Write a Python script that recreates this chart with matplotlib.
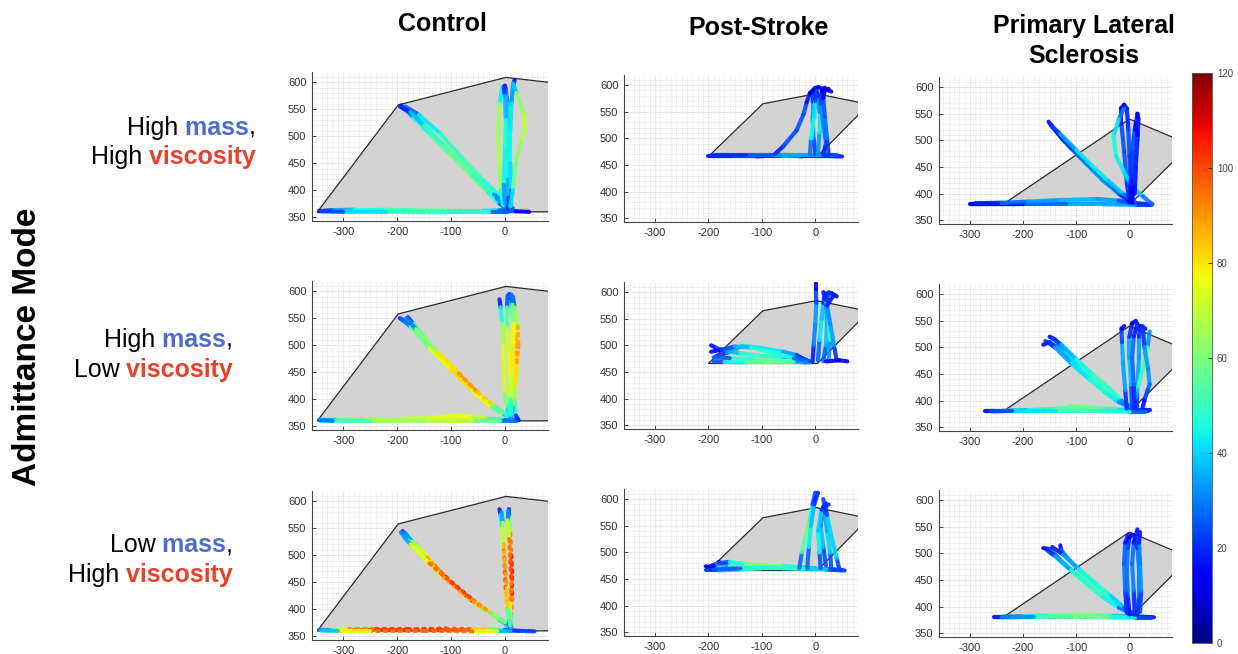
import numpy as np
import matplotlib.pyplot as plt
from matplotlib.collections import LineCollection
from matplotlib.patches import Polygon
from matplotlib.cm import ScalarMappable
from matplotlib.colors import Normalize

plt.rcParams['font.family'] = ['Liberation Sans', 'DejaVu Sans']
plt.rcParams['axes.unicode_minus'] = False

W, H = 1238, 654

col_titles = ["Control", "Post-Stroke", "Primary Lateral\nSclerosis"]
row_first_1 = ["High", "High", "Low"]      # "... mass,"
row_first_2 = ["High", "Low", "High"]      # "... viscosity"
side_label = "Admittance Mode"
mass_color = "#4E6DC8"
visc_color = "#E8412B"

xticks = [-300, -200, -100, 0]
yticks = [350, 400, 450, 500, 550, 600]
cbar_ticks = [0, 20, 40, 60, 80, 100, 120]

# workspace outlines (mm)
ctrl_ws_x = [-348, -198, 2, 150, 150]
ctrl_ws_y = [360, 558, 609, 592, 360]
ps_ws_x = [-200, -98, 2, 100, 4]
ps_ws_y = [466, 565, 584, 564, 466]
pls_ws_x = [-233, 0, 100, 100, 4]
pls_ws_y = [383, 540, 498, 478, 383]

# trajectories: (x, y, speed)
ctrl_hh = [
    [(-345, 362, 8), (-330, 362, 20), (-300, 362, 38), (-250, 361, 48), (-200, 361, 55), (-150, 361, 58),
     (-100, 361, 58), (-50, 361, 55), (-20, 362, 45), (0, 362, 30), (20, 361, 18), (45, 360, 8)],
    [(-345, 361, 10), (-320, 363, 30), (-280, 364, 42), (-230, 364, 50), (-170, 363, 54), (-100, 362, 56),
     (-40, 362, 50), (-10, 363, 35), (10, 362, 20)],
    [(5, 359, 12), (-30, 359, 42), (-120, 359, 52), (-220, 360, 48), (-300, 360, 35), (-340, 361, 12)],
    [(-193, 557, 8), (-185, 550, 25), (-170, 535, 40), (-140, 505, 50), (-100, 465, 58), (-60, 425, 60),
     (-30, 395, 52), (-10, 375, 40), (0, 368, 15)],
    [(-190, 552, 12), (-170, 540, 35), (-130, 500, 52), (-80, 450, 62), (-40, 410, 58), (-15, 385, 45), (5, 368, 20)],
    [(-185, 555, 15), (-160, 540, 38), (-120, 505, 48), (-80, 460, 52), (-40, 418, 50), (0, 380, 40), (15, 366, 12)],
    [(-195, 555, 10), (-175, 545, 30), (-150, 520, 45), (-110, 480, 55), (-60, 430, 56), (-20, 392, 44), (10, 370, 20)],
    [(0, 594, 8), (2, 585, 25), (5, 560, 38), (6, 520, 42), (7, 470, 45), (6, 420, 42), (5, 385, 30), (5, 366, 10)],
    [(18, 604, 8), (15, 595, 25), (12, 560, 40), (10, 510, 45), (10, 450, 44), (12, 400, 38), (10, 368, 12)],
    [(15, 598, 20), (22, 580, 58), (35, 540, 68), (38, 515, 70), (30, 490, 66), (20, 450, 60), (15, 400, 55), (10, 370, 30)],
    [(-5, 590, 25), (-10, 560, 62), (-12, 500, 68), (-10, 440, 66), (-8, 400, 60), (-3, 372, 35)],
    [(-2, 592, 10), (0, 575, 30), (2, 530, 44), (0, 470, 46), (-2, 410, 42), (0, 375, 25)],
]
ctrl_hl = [
    [(-345, 361, 20), (-330, 361, 40), (-300, 361, 58), (-250, 361, 66), (-200, 362, 68), (-150, 362, 70),
     (-100, 364, 72), (-70, 366, 74), (-40, 363, 68), (-10, 362, 50), (10, 362, 25), (25, 361, 10)],
    [(-343, 362, 25), (-310, 362, 52), (-260, 363, 64), (-200, 363, 68), (-130, 366, 72), (-90, 370, 78),
     (-60, 368, 75), (-30, 364, 62), (0, 362, 40), (20, 362, 15)],
    [(20, 360, 12), (-10, 360, 45), (-60, 360, 70), (-150, 360, 68), (-250, 360, 62), (-320, 360, 42), (-345, 361, 15)],
    [(-195, 550, 8), (-185, 545, 30), (-165, 525, 55), (-130, 490, 72), (-95, 455, 85), (-60, 420, 96),
     (-30, 395, 80), (-5, 375, 55), (10, 368, 20)],
    [(-180, 552, 10), (-170, 540, 35), (-150, 515, 62), (-120, 480, 78), (-80, 440, 92), (-45, 405, 88),
     (-15, 380, 65), (5, 368, 30)],
    [(-192, 548, 12), (-175, 535, 45), (-140, 495, 70), (-100, 455, 80), (-60, 415, 82), (-25, 385, 70),
     (0, 372, 45), (10, 368, 15)],
    [(-183, 550, 10), (-165, 530, 50), (-125, 488, 72), (-85, 448, 88), (-50, 412, 92), (-20, 388, 74), (5, 370, 35)],
    [(-10, 585, 8), (-8, 570, 30), (-5, 540, 60), (-3, 500, 72), (-2, 450, 75), (0, 410, 70), (5, 380, 50), (10, 367, 15)],
    [(8, 595, 8), (10, 580, 35), (15, 550, 70), (20, 515, 88), (22, 480, 85), (20, 440, 78), (18, 400, 65),
     (20, 370, 30), (25, 362, 10)],
    [(15, 590, 10), (18, 570, 45), (24, 535, 82), (25, 500, 92), (22, 460, 86), (18, 420, 75), (15, 385, 55), (12, 368, 20)],
    [(5, 592, 10), (4, 570, 40), (5, 530, 68), (8, 480, 76), (10, 430, 74), (8, 390, 62), (5, 370, 30)],
    [(12, 594, 12), (14, 575, 45), (16, 540, 74), (15, 500, 80), (12, 450, 78), (10, 400, 66), (12, 372, 28)],
]
ctrl_lh = [
    [(-345, 361, 10), (-330, 361, 35), (-310, 362, 65), (-280, 362, 95), (-230, 362, 105), (-180, 362, 108),
     (-120, 362, 105), (-70, 362, 100), (-30, 361, 80), (-5, 361, 50), (5, 361, 25), (25, 360, 15), (55, 359, 30)],
    [(-343, 362, 15), (-320, 362, 55), (-290, 363, 85), (-240, 363, 100), (-180, 363, 104), (-110, 364, 100),
     (-60, 363, 95), (-25, 362, 70), (0, 362, 35), (15, 361, 12)],
    [(10, 359, 15), (-15, 359, 60), (-60, 359, 92), (-150, 360, 100), (-250, 360, 90), (-310, 360, 60), (-340, 361, 15)],
    [(-190, 545, 8), (-180, 535, 40), (-160, 515, 70), (-130, 480, 90), (-95, 445, 102), (-60, 415, 105),
     (-30, 395, 92), (-5, 378, 55), (5, 370, 20)],
    [(-185, 540, 10), (-172, 525, 55), (-145, 495, 82), (-110, 460, 100), (-70, 425, 108), (-35, 398, 96),
     (-10, 380, 62), (5, 372, 25)],
    [(-193, 542, 12), (-180, 528, 50), (-150, 495, 75), (-115, 460, 85), (-80, 430, 88), (-40, 400, 78),
     (-10, 382, 50), (5, 372, 22)],
    [(-188, 535, 10), (-175, 520, 60), (-140, 485, 90), (-100, 450, 104), (-60, 418, 100), (-25, 392, 80), (0, 376, 40)],
    [(-10, 585, 8), (-8, 575, 25), (-5, 550, 62), (-2, 510, 88), (0, 470, 100), (2, 430, 96), (5, 395, 75),
     (8, 375, 40), (10, 365, 10)],
    [(8, 585, 8), (8, 570, 40), (10, 540, 80), (12, 500, 104), (14, 460, 108), (14, 420, 102), (12, 390, 80), (10, 370, 30)],
    [(5, 582, 12), (5, 565, 50), (8, 530, 90), (10, 490, 100), (12, 450, 98), (10, 410, 88), (8, 380, 55), (12, 366, 15)],
    [(-6, 580, 15), (-4, 560, 55), (-2, 520, 82), (0, 480, 90), (4, 440, 88), (6, 400, 78), (10, 370, 30)],
]
ps_hh = [
    [(-200, 467, 12), (-180, 467, 22), (-140, 467, 24), (-100, 467, 22), (-80, 467, 10), (-60, 467, 30),
     (-40, 467, 42), (-20, 467, 35), (0, 467, 15), (20, 467, 22), (50, 466, 12)],
    [(-195, 466, 15), (-150, 466, 25), (-110, 466, 25), (-75, 468, 12), (-50, 468, 45), (-25, 466, 12),
     (10, 466, 28), (45, 466, 15)],
    [(40, 468, 18), (10, 468, 30), (-30, 468, 40), (-80, 468, 30), (-130, 468, 22), (-190, 468, 18)],
    [(0, 470, 15), (-3, 500, 30), (-5, 540, 35), (-5, 570, 30), (-3, 590, 12), (5, 596, 8), (20, 592, 10), (30, 588, 8)],
    [(5, 470, 20), (8, 510, 45), (8, 550, 40), (5, 580, 25), (0, 592, 8)],
    [(-75, 471, 15), (-60, 485, 22), (-35, 515, 25), (-22, 545, 25), (-16, 568, 22), (-10, 585, 12), (0, 595, 8)],
    [(15, 470, 12), (20, 490, 25), (15, 530, 32), (10, 565, 30), (12, 588, 12), (25, 593, 8)],
    [(-10, 470, 18), (-8, 500, 40), (-2, 540, 50), (0, 570, 35), (3, 590, 10)],
    [(25, 470, 14), (22, 500, 28), (18, 540, 30), (15, 575, 20), (18, 595, 10)],
]
ps_hl = [
    [(-195, 500, 10), (-185, 495, 20), (-170, 490, 30), (-140, 485, 45), (-100, 480, 50), (-60, 478, 45),
     (-30, 478, 30), (-15, 472, 10)],
    [(-190, 470, 15), (-170, 469, 35), (-130, 468, 55), (-90, 468, 62), (-50, 468, 60), (-20, 468, 45), (-10, 470, 12)],
    [(-185, 480, 12), (-165, 486, 30), (-136, 499, 40), (-100, 495, 45), (-60, 488, 40), (-35, 482, 30), (-15, 470, 15)],
    [(-10, 468, 15), (-40, 470, 50), (-80, 472, 58), (-120, 474, 55), (-160, 476, 40), (-190, 478, 12)],
    [(-195, 488, 10), (-175, 492, 18), (-150, 498, 30), (-120, 496, 45), (-80, 486, 50), (-40, 476, 40), (-12, 470, 15)],
    [(-5, 470, 12), (-3, 500, 25), (0, 540, 35), (2, 580, 30), (1, 605, 15), (1, 617, 8)],
    [(5, 472, 15), (8, 510, 40), (12, 550, 45), (15, 580, 30), (18, 597, 10), (30, 598, 8), (40, 592, 10)],
    [(15, 470, 18), (20, 500, 35), (22, 540, 40), (20, 575, 30), (25, 600, 12)],
    [(25, 472, 20), (28, 510, 45), (25, 550, 50), (20, 585, 28), (15, 600, 10)],
    [(40, 472, 12), (35, 500, 30), (28, 540, 38), (22, 575, 25), (35, 595, 10)],
    [(20, 470, 10), (45, 472, 12), (60, 470, 10)],
]
ps_lh = [
    [(-205, 474, 8), (-195, 470, 12), (-185, 478, 10), (-180, 482, 8)],
    [(-200, 473, 10), (-185, 478, 20), (-160, 476, 45), (-120, 474, 62), (-85, 474, 70), (-50, 472, 60), (-30, 470, 30)],
    [(-205, 466, 12), (-180, 466, 30), (-140, 468, 45), (-100, 470, 55), (-60, 470, 50), (-20, 469, 40),
     (20, 468, 30), (55, 466, 12)],
    [(-180, 480, 10), (-160, 482, 35), (-130, 478, 55), (-90, 476, 65), (-60, 475, 58), (-30, 472, 40), (0, 470, 25)],
    [(50, 467, 12), (20, 469, 35), (-20, 470, 45), (-80, 472, 50), (-140, 470, 40), (-190, 468, 12)],
    [(-30, 470, 10), (-25, 500, 45), (-18, 530, 62), (-10, 560, 55), (-5, 590, 35), (0, 612, 10)],
    [(-15, 470, 12), (-12, 510, 42), (-8, 550, 45), (-2, 590, 30), (5, 612, 10)],
    [(20, 475, 15), (15, 510, 35), (10, 550, 40), (15, 585, 20), (18, 590, 8)],
    [(30, 470, 12), (28, 500, 38), (22, 540, 42), (18, 575, 28), (20, 592, 10)],
    [(45, 468, 10), (40, 490, 35), (30, 530, 45), (22, 570, 35), (15, 600, 10)],
    [(10, 470, 12), (8, 500, 40), (5, 540, 48), (12, 580, 30), (25, 590, 10)],
]
pls_hh = [
    [(-300, 381, 8), (-280, 381, 15), (-250, 381, 22), (-200, 381, 28), (-150, 382, 35), (-100, 382, 42),
     (-50, 382, 45), (-20, 382, 40), (10, 381, 25), (43, 380, 10)],
    [(-295, 380, 10), (-260, 380, 20), (-220, 380, 30), (-170, 383, 40), (-120, 385, 44), (-70, 386, 46),
     (-30, 385, 42), (0, 383, 30), (30, 381, 15)],
    [(40, 379, 12), (10, 379, 30), (-50, 380, 38), (-120, 380, 30), (-200, 380, 22), (-280, 380, 12), (-298, 380, 8)],
    [(-290, 382, 12), (-240, 383, 25), (-190, 385, 32), (-130, 388, 35), (-60, 390, 38), (-20, 387, 30), (0, 383, 18)],
    [(-152, 535, 8), (-145, 525, 20), (-130, 508, 25), (-110, 485, 28), (-80, 455, 30), (-50, 425, 32),
     (-20, 400, 28), (0, 385, 15)],
    [(-148, 530, 12), (-135, 515, 25), (-120, 500, 30), (-90, 468, 38), (-60, 438, 42), (-30, 410, 38),
     (-5, 390, 25), (10, 383, 12)],
    [(-140, 520, 10), (-124, 500, 18), (-100, 478, 25), (-70, 448, 28), (-40, 420, 30), (-15, 398, 25), (5, 385, 12)],
    [(-145, 525, 15), (-130, 512, 30), (-100, 482, 40), (-70, 452, 45), (-40, 424, 42), (-10, 398, 35), (10, 385, 20)],
    [(0, 385, 15), (-5, 420, 25), (-10, 480, 25), (-15, 530, 22), (-15, 560, 12), (-10, 567, 8), (-5, 560, 15),
     (-2, 520, 22), (0, 470, 25), (2, 420, 20), (5, 390, 12)],
    [(-10, 560, 20), (-20, 540, 40), (-30, 507, 45), (-25, 470, 45), (-10, 440, 42), (8, 410, 40), (25, 395, 38), (43, 380, 20)],
    [(0, 385, 12), (3, 430, 20), (5, 480, 22), (10, 520, 25), (15, 550, 10), (17, 540, 15), (15, 500, 22),
     (12, 450, 20), (10, 400, 12)],
    [(5, 383, 10), (8, 420, 18), (12, 470, 22), (15, 510, 20), (12, 530, 10)],
]
pls_hl = [
    [(-272, 380, 8), (-255, 380, 20), (-220, 381, 38), (-170, 383, 48), (-120, 386, 55), (-110, 390, 58),
     (-80, 388, 60), (-40, 385, 56), (-10, 383, 45), (20, 382, 25), (38, 382, 10)],
    [(-268, 381, 10), (-240, 381, 30), (-190, 382, 45), (-140, 384, 52), (-90, 385, 58), (-50, 384, 55),
     (-20, 382, 48), (10, 381, 30), (35, 381, 12)],
    [(30, 379, 15), (0, 379, 40), (-60, 380, 52), (-140, 380, 48), (-220, 380, 35), (-260, 380, 12)],
    [(-162, 505, 8), (-150, 510, 15), (-135, 500, 30), (-110, 475, 40), (-80, 445, 45), (-50, 420, 48),
     (-25, 400, 45), (-5, 390, 30), (5, 385, 12)],
    [(-150, 520, 8), (-140, 515, 20), (-120, 495, 38), (-90, 465, 45), (-60, 435, 50), (-30, 410, 52),
     (-10, 395, 40), (5, 386, 15)],
    [(-145, 518, 12), (-128, 505, 32), (-100, 478, 42), (-70, 450, 48), (-40, 425, 52), (-15, 400, 45), (0, 388, 20)],
    [(-158, 512, 10), (-140, 500, 30), (-110, 470, 40), (-75, 440, 44), (-45, 415, 46), (-20, 398, 42), (0, 390, 20)],
    [(-5, 385, 10), (-8, 420, 30), (-12, 470, 38), (-14, 510, 32), (-15, 535, 15), (-10, 540, 8)],
    [(5, 385, 12), (3, 430, 35), (0, 480, 40), (0, 520, 30), (5, 545, 10), (12, 550, 8)],
    [(15, 385, 12), (15, 430, 32), (18, 480, 38), (18, 520, 30), (20, 540, 12), (30, 535, 8)],
    [(38, 530, 15), (34, 500, 50), (25, 460, 55), (15, 420, 45), (10, 400, 30), (8, 388, 12)],
    [(25, 540, 10), (28, 500, 32), (35, 460, 35), (38, 430, 30), (34, 419, 25), (28, 400, 20), (25, 388, 12)],
    [(10, 386, 15), (8, 430, 25), (5, 480, 30), (8, 520, 25), (15, 545, 10)],
]
pls_lh = [
    [(-255, 381, 8), (-240, 381, 20), (-200, 382, 40), (-150, 384, 55), (-100, 385, 62), (-60, 384, 60),
     (-30, 383, 48), (0, 382, 30), (25, 381, 15), (46, 380, 8)],
    [(-250, 380, 10), (-220, 380, 30), (-170, 381, 50), (-120, 381, 62), (-70, 381, 64), (-30, 380, 52),
     (0, 380, 30), (30, 380, 12)],
    [(40, 379, 12), (10, 379, 35), (-40, 380, 55), (-110, 381, 58), (-180, 381, 45), (-240, 380, 18)],
    [(-162, 510, 8), (-150, 508, 18), (-130, 488, 35), (-105, 465, 45), (-80, 450, 55), (-50, 425, 52),
     (-25, 405, 45), (0, 390, 25), (10, 385, 10)],
    [(-130, 515, 10), (-128, 505, 20), (-115, 490, 35), (-90, 465, 48), (-60, 438, 55), (-30, 412, 50),
     (-5, 393, 35), (8, 386, 12)],
    [(-155, 506, 12), (-140, 495, 28), (-110, 468, 42), (-80, 442, 50), (-50, 418, 48), (-20, 398, 40), (5, 388, 15)],
    [(-145, 512, 10), (-125, 498, 25), (-95, 470, 42), (-65, 445, 48), (-35, 420, 45), (-10, 398, 35), (8, 386, 12)],
    [(0, 385, 10), (-3, 420, 25), (-5, 470, 30), (-3, 510, 28), (0, 530, 12), (5, 535, 8)],
    [(10, 385, 12), (8, 430, 28), (5, 480, 32), (8, 520, 25), (15, 545, 8)],
    [(15, 385, 12), (18, 420, 28), (18, 470, 32), (15, 510, 28), (10, 530, 10)],
    [(20, 390, 15), (22, 430, 30), (20, 480, 35), (18, 520, 25), (20, 540, 10)],
    [(-5, 388, 12), (-8, 430, 28), (-10, 480, 30), (-8, 520, 22), (-2, 535, 10)],
]

panels = [[ctrl_hh, ps_hh, pls_hh], [ctrl_hl, ps_hl, pls_hl], [ctrl_lh, ps_lh, pls_lh]]
workspaces = [(ctrl_ws_x, ctrl_ws_y), (ps_ws_x, ps_ws_y), (pls_ws_x, pls_ws_y)]

norm = Normalize(0, 120)

fig = plt.figure(figsize=(W / 100, H / 100), dpi=100)

# axes boxes in pixels
col_left = [312, 624, 939]
col_w = [236, 234, 233]
col_h = [149, 147, 147]
row_top = [[72, 281, 491], [75, 282, 489], [77, 284, 490]]


def draw_strokes(ax, strokes):
    for st in strokes:
        p = np.array(st, float)
        segs = np.stack([p[:-1, :2], p[1:, :2]], axis=1)
        spd = (p[:-1, 2] + p[1:, 2]) / 2
        ls = ['solid' if s < 82 else (0, (0.5, 1.3)) for s in spd]
        lc = LineCollection(segs, cmap='jet', norm=norm, linewidths=3.0, linestyles=ls,
                            capstyle='round', joinstyle='round', zorder=3, alpha=0.9)
        lc.set_array(spd)
        ax.add_collection(lc)


for c in range(3):
    for r in range(3):
        top = row_top[c][r]
        ax = fig.add_axes([col_left[c] / W, 1 - (top + col_h[c]) / H, col_w[c] / W, col_h[c] / H])
        ax.set_xlim(-358, 80)
        ax.set_ylim(343, 619)
        ax.set_xticks(xticks)
        ax.set_yticks(yticks)
        ax.set_xticks(np.arange(-350, 81, 10), minor=True)
        ax.set_yticks(np.arange(350, 619, 10), minor=True)
        ax.set_axisbelow(True)
        ax.grid(which='minor', ls=':', color='#d4d4d4', lw=0.5)
        ax.grid(which='major', ls='-', color='#e2e2e2', lw=0.5)
        ax.tick_params(which='minor', length=0)
        ax.tick_params(which='major', direction='in', length=3, width=0.7, color='#444444',
                       labelsize=8, labelcolor='#333333', pad=4)
        for s in ['top', 'right']:
            ax.spines[s].set_visible(False)
        for s in ['left', 'bottom']:
            ax.spines[s].set_color('#444444')
            ax.spines[s].set_linewidth(0.8)
        wx, wy = workspaces[c]
        ax.add_patch(Polygon(np.column_stack([wx, wy]), closed=True, facecolor='#d3d3d3',
                             edgecolor='#2b2b2b', lw=0.9, zorder=2))
        draw_strokes(ax, panels[r][c])

# colorbar
cax = fig.add_axes([1192 / W, 1 - 643 / H, 20 / W, 570 / H])
cb = fig.colorbar(ScalarMappable(norm=norm, cmap='jet'), cax=cax, ticks=cbar_ticks)
cb.outline.set_edgecolor('#555555')
cb.outline.set_linewidth(0.6)
cax.tick_params(direction='in', length=3, width=0.7, color='#333333', labelsize=7, labelcolor='#444444')

# text layer in pixel coordinates
lab = fig.add_axes([0, 0, 1, 1])
lab.set_xlim(0, W)
lab.set_ylim(H, 0)
lab.axis('off')

title_x = [442, 759, 1084]
title_y = [31, 35, 33]
for t, x, y in zip(col_titles, title_x, title_y):
    for k, line in enumerate(t.split("\n")):
        lab.text(x, y + 30 * k, line, ha='center', va='baseline', fontsize=18, fontweight='bold')

lab.text(28, 347, side_label, rotation=90, ha='center', va='center', fontsize=24, fontweight='bold')


def rich_line(x, y, pieces):
    prev = None
    for txt, col, wt in reversed(pieces):
        if prev is None:
            prev = lab.text(x, y, txt, color=col, fontweight=wt, fontsize=18, ha='right', va='baseline')
        else:
            prev = lab.annotate(txt, xy=(0, 0), xycoords=prev, color=col, fontweight=wt, fontsize=18,
                                ha='right', va='bottom')


label_right = [256, 233, 233]
line1_y = [135, 347, 552]
line2_y = [164, 377, 582]
for i in range(3):
    rich_line(label_right[i], line1_y[i], [(row_first_1[i], 'black', 'normal'),
                                            (' mass', mass_color, 'bold'), (',', 'black', 'normal')])
    rich_line(label_right[i], line2_y[i], [(row_first_2[i], 'black', 'normal'),
                                            (' viscosity', visc_color, 'bold')])

fig.savefig('out.png', dpi=100)
